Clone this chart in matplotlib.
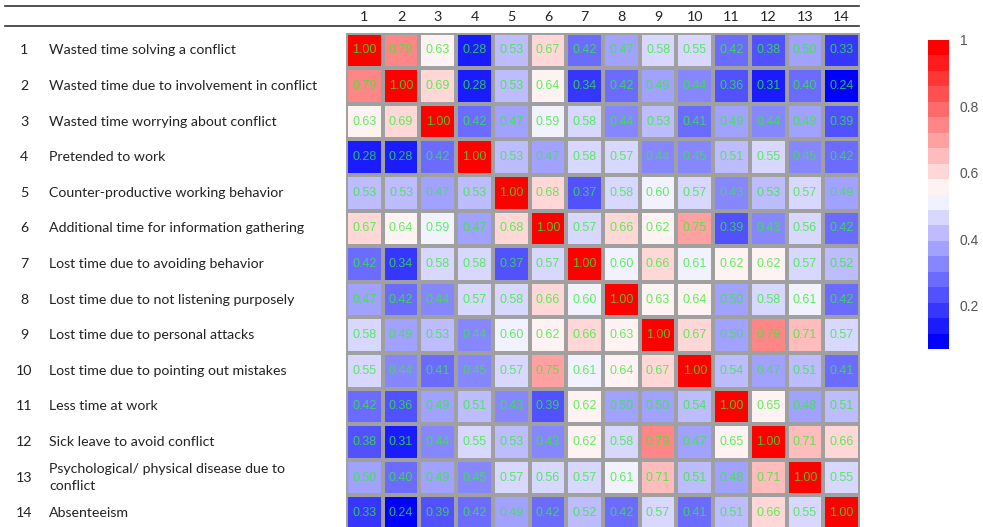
import numpy as np
import matplotlib
matplotlib.use("Agg")
import matplotlib.pyplot as plt
from matplotlib.colors import LinearSegmentedColormap, Normalize
from matplotlib.cm import ScalarMappable
from matplotlib.lines import Line2D
from matplotlib.transforms import blended_transform_factory

# Correlation matrix of conflict cost items
items = [
    "Wasted time solving a conflict",
    "Wasted time due to involvement in conflict",
    "Wasted time worrying about conflict",
    "Pretended to work",
    "Counter-productive working behavior",
    "Additional time for information gathering",
    "Lost time due to avoiding behavior",
    "Lost time due to not listening purposely",
    "Lost time due to personal attacks",
    "Lost time due to pointing out mistakes",
    "Less time at work",
    "Sick leave to avoid conflict",
    "Psychological/ physical disease due to\nconflict",
    "Absenteeism",
]
item_numbers = [str(i) for i in range(1, 15)]

corr = np.array([
    [1.00, 0.79, 0.63, 0.28, 0.53, 0.67, 0.42, 0.47, 0.58, 0.55, 0.42, 0.38, 0.50, 0.33],
    [0.79, 1.00, 0.69, 0.28, 0.53, 0.64, 0.34, 0.42, 0.49, 0.44, 0.36, 0.31, 0.40, 0.24],
    [0.63, 0.69, 1.00, 0.42, 0.47, 0.59, 0.58, 0.44, 0.53, 0.41, 0.49, 0.44, 0.49, 0.39],
    [0.28, 0.28, 0.42, 1.00, 0.53, 0.47, 0.58, 0.57, 0.44, 0.45, 0.51, 0.55, 0.45, 0.42],
    [0.53, 0.53, 0.47, 0.53, 1.00, 0.68, 0.37, 0.58, 0.60, 0.57, 0.43, 0.53, 0.57, 0.49],
    [0.67, 0.64, 0.59, 0.47, 0.68, 1.00, 0.57, 0.66, 0.62, 0.75, 0.39, 0.43, 0.56, 0.42],
    [0.42, 0.34, 0.58, 0.58, 0.37, 0.57, 1.00, 0.60, 0.66, 0.61, 0.62, 0.62, 0.57, 0.52],
    [0.47, 0.42, 0.44, 0.57, 0.58, 0.66, 0.60, 1.00, 0.63, 0.64, 0.50, 0.58, 0.61, 0.42],
    [0.58, 0.49, 0.53, 0.44, 0.60, 0.62, 0.66, 0.63, 1.00, 0.67, 0.50, 0.79, 0.71, 0.57],
    [0.55, 0.44, 0.41, 0.45, 0.57, 0.75, 0.61, 0.64, 0.67, 1.00, 0.54, 0.47, 0.51, 0.41],
    [0.42, 0.36, 0.49, 0.51, 0.43, 0.39, 0.62, 0.50, 0.50, 0.54, 1.00, 0.65, 0.48, 0.51],
    [0.38, 0.31, 0.44, 0.55, 0.53, 0.43, 0.62, 0.58, 0.79, 0.47, 0.65, 1.00, 0.71, 0.66],
    [0.50, 0.40, 0.49, 0.45, 0.57, 0.56, 0.57, 0.61, 0.71, 0.51, 0.48, 0.71, 1.00, 0.55],
    [0.33, 0.24, 0.39, 0.42, 0.49, 0.42, 0.52, 0.42, 0.57, 0.41, 0.51, 0.66, 0.55, 1.00],
])

W, H = 983, 527
cmap = LinearSegmentedColormap.from_list("bwr20", ["#0000ff", "#ffffff", "#ff0000"], N=20)

fig = plt.figure(figsize=(W / 100, H / 100), dpi=100)

# heatmap cells, bottom row runs a little past the page edge
ax = fig.add_axes([346 / W, 1 - 531 / H, 514 / W, 498.5 / H])
n = corr.shape[0]
ax.pcolormesh(np.arange(n + 1), np.arange(n + 1), corr, cmap=cmap,
              norm=Normalize(corr.min(), 1.0), edgecolors="#a0a0a0", linewidth=1.6)
ax.set_xlim(0, n)
ax.set_ylim(n, 0)
ax.axis("off")

for i in range(n):
    for j in range(n):
        ax.text(j + 0.5, i + 0.5, f"{corr[i, j]:.2f}", ha="center", va="center",
                fontsize=9, family="Liberation Sans", color="#33ee33", alpha=0.78)

# column numbers above the grid
col_tr = blended_transform_factory(ax.transData, fig.transFigure)
for j, lab in enumerate(item_numbers):
    ax.text(j + 0.5, 1 - 17 / H, lab, transform=col_tr, ha="center", va="center",
            fontsize=10.3, family="Lato", color="#222222")

# row numbers and item names on the left
row_tr = blended_transform_factory(fig.transFigure, ax.transData)
for i, (num, name) in enumerate(zip(item_numbers, items)):
    ax.text(24 / W, i + 0.5, num, transform=row_tr, ha="center", va="center",
            fontsize=10.2, family="Lato", color="#222222")
    ax.text(49 / W, i + 0.5, name, transform=row_tr, ha="left", va="center",
            fontsize=10.2, family="Lato", color="#222222", linespacing=1.5)

# table rules
for y in (6, 26):
    fig.add_artist(Line2D([5 / W, 859 / W], [1 - y / H, 1 - y / H],
                          transform=fig.transFigure, color="#222222", lw=1.1))

# colour key
cax = fig.add_axes([928 / W, 1 - 349 / H, 20.5 / W, 309 / H])
cb = fig.colorbar(ScalarMappable(norm=Normalize(0.07, 1.0), cmap=cmap), cax=cax,
                  ticks=[0.2, 0.4, 0.6, 0.8, 1.0])
cb.ax.set_yticklabels(["0.2", "0.4", "0.6", "0.8", "1"])
cb.outline.set_visible(False)
cb.ax.tick_params(length=0, pad=8, labelsize=10, labelcolor="#555555")
for t in cb.ax.get_yticklabels():
    t.set_family("Liberation Sans")

fig.savefig("out.png", dpi=100)
